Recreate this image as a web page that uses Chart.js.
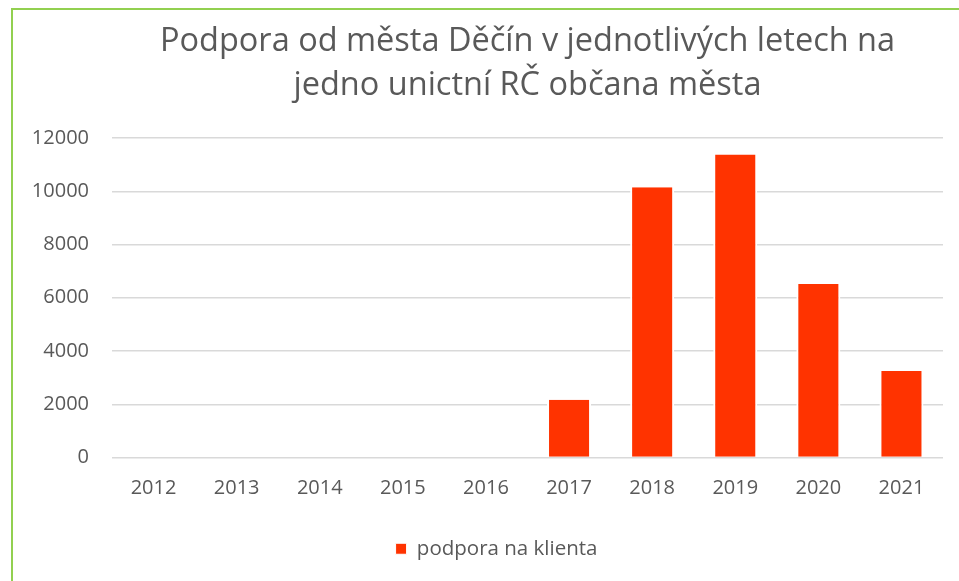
<!DOCTYPE html>
<html>
<head>
<meta charset="utf-8">
<script src="https://cdn.jsdelivr.net/npm/chart.js@4.4.1/dist/chart.umd.min.js"></script>
<style>
  html, body { margin: 0; padding: 0; background: #ffffff; }
  body { width: 959px; height: 581px; position: relative; overflow: hidden; }
  #frame { position: absolute; left: 11px; top: 8px; width: 1000px; height: 700px;
           border-left: 2px solid #92d050; border-top: 2px solid #92d050; }
  #wrap { position: absolute; left: 0; top: 0; width: 959px; height: 581px; }
</style>
</head>
<body>
<div id="frame"></div>
<div id="wrap"><canvas id="c" width="959" height="581"></canvas></div>
<script>
const titleLines = ['Podpora od města Děčín v jednotlivých letech na', 'jedno unictní RČ občana města'];
const years = ['2012', '2013', '2014', '2015', '2016', '2017', '2018', '2019', '2020', '2021'];
const seriesName = 'podpora na klienta';
const podporaNaKlienta = [0, 0, 0, 0, 0, 2170, 10150, 11380, 6520, 3250];
const yTicks = [0, 2000, 4000, 6000, 8000, 10000, 12000];

const TEXT = '#595959';
const FONT = "'Open Sans', sans-serif";

// shift the legend so that it is centred like the original (Excel) legend
const legendShift = {
  id: 'legendShift',
  afterLayout(chart) {
    const lg = chart.legend;
    if (!lg) return;
    const dx = 25;
    lg.left += dx; lg.right += dx;
    if (lg.legendHitBoxes) lg.legendHitBoxes.forEach(b => { b.left += dx; });
  }
};

new Chart(document.getElementById('c'), {
  type: 'bar',
  data: {
    labels: years,
    datasets: [{
      label: seriesName,
      data: podporaNaKlienta,
      backgroundColor: '#ff3300',
      borderColor: '#ffffff',
      borderWidth: { left: 2, right: 2, top: 0, bottom: 0 },
      borderSkipped: false,
      barPercentage: 0.53,
      categoryPercentage: 1.0
    }]
  },
  plugins: [legendShift],
  options: {
    responsive: false,
    animation: false,
    devicePixelRatio: 1,
    layout: { padding: { left: 0, right: 16, top: 0, bottom: 12 } },
    plugins: {
      title: {
        display: true,
        text: titleLines,
        fullSize: false,
        color: TEXT,
        font: { family: FONT, size: 32.5, weight: 'normal', lineHeight: 1.354 },
        padding: { top: 20, bottom: 30 }
      },
      legend: {
        display: true,
        position: 'bottom',
        labels: {
          color: TEXT,
          font: { family: FONT, size: 20.5 },
          boxWidth: 11,
          boxHeight: 11,
          padding: 28
        }
      },
      tooltip: { enabled: false }
    },
    scales: {
      x: {
        grid: { display: false },
        border: { display: false },
        ticks: { color: TEXT, font: { family: FONT, size: 20 }, padding: 10.5 }
      },
      y: {
        min: 0,
        max: 12000,
        afterBuildTicks: (s) => { s.ticks = yTicks.map(v => ({ value: v })); },
        afterFit: (s) => { s.width = 112; },
        grid: { color: '#d9d9d9', lineWidth: 1.5, drawTicks: false },
        border: { display: false },
        ticks: { color: TEXT, font: { family: FONT, size: 20 }, padding: 23,
                 callback: (v) => String(v) }
      }
    }
  }
});
</script>
</body>
</html>
